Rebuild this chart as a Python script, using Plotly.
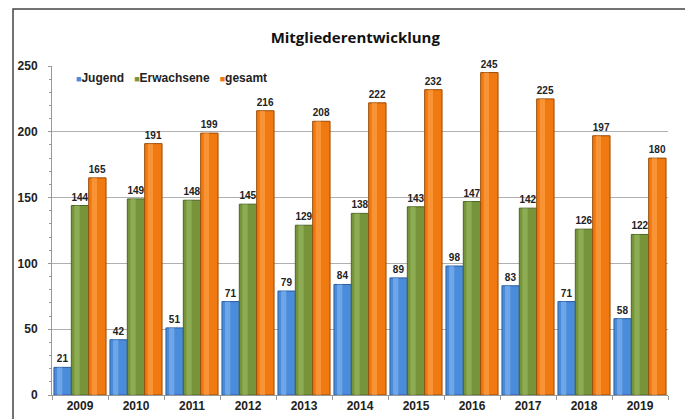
import plotly.graph_objects as go

jahre = ["2009", "2010", "2011", "2012", "2013", "2014", "2015", "2016", "2017", "2018", "2019"]
jugend = [21, 42, 51, 71, 79, 84, 89, 98, 83, 71, 58]
erwachsene = [144, 149, 148, 145, 129, 138, 143, 147, 142, 126, 122]
gesamt = [165, 191, 199, 216, 208, 222, 232, 245, 225, 197, 180]

series = [
    ("Jugend", jugend, "#4A8BDB", "#2A5C9E", "#8CBDF2"),
    ("Erwachsene", erwachsene, "#76953A", "#4C6424", "#A3BF6A"),
    ("gesamt", gesamt, "#F07A10", "#9A4A05", "#FFAA55"),
]

xs = list(range(len(jahre)))
bw = 0.31
fig = go.Figure()
for k, (name, vals, col, edge, light) in enumerate(series):
    off = -0.465 + k * bw
    fig.add_trace(go.Bar(
        x=xs, y=vals, name=name, width=bw, offset=off,
        marker=dict(color=col, line=dict(color=edge, width=1)),
        text=[str(v) for v in vals], textposition="outside",
        texttemplate="<b>%{text}</b>",
        textfont=dict(family="Liberation Sans", size=10, color="#222"),
        cliponaxis=False, showlegend=False,
    ))
    fig.add_trace(go.Bar(
        x=xs, y=vals, width=bw * 0.3, offset=off + bw * 0.18,
        marker=dict(color=light, opacity=0.55, line=dict(width=0)),
        showlegend=False, hoverinfo="skip",
    ))

legend_txt = "   ".join(
    f"<span style='color:{col};font-size:9px'>■</span><b>{name}</b>" for name, _, col, _, _ in series
)

fig.update_layout(
    width=685, height=411,
    margin=dict(l=44, r=25, t=58, b=24),
    paper_bgcolor="white", plot_bgcolor="white",
    barmode="overlay",
    title=dict(text="<b>Mitgliederentwicklung</b>", x=0.507, xanchor="center",
               y=0.927, yanchor="middle",
               font=dict(family="Open Sans", size=15, color="#111")),
    font=dict(family="Liberation Sans"),
    annotations=[dict(text=legend_txt, xref="paper", yref="paper",
                      x=0.035, y=0.964, xanchor="left", yanchor="middle",
                      showarrow=False,
                      font=dict(family="Liberation Sans", size=12, color="#222"))],
    xaxis=dict(range=[-0.5, len(jahre) - 0.5], tickmode="array",
               tickvals=xs, ticktext=[f"<b>{j}</b>" for j in jahre],
               showline=True, linecolor="#999", linewidth=1,
               ticks="", automargin=False,
               minor=dict(tickvals=[i - 0.5 for i in range(len(jahre) + 1)],
                          ticks="outside", ticklen=4, tickcolor="#999"),
               tickfont=dict(family="Liberation Sans", size=12, color="#222")),
    yaxis=dict(range=[0, 250], dtick=50, showgrid=True, gridcolor="#b0b0b0",
               showline=True, linecolor="#999", linewidth=1,
               ticks="outside", ticklen=3, tickcolor="#999",
               minor=dict(dtick=10, ticks="outside", ticklen=2, tickcolor="#999"),
               tickfont=dict(family="Liberation Sans", size=12, color="#222"),
               tickprefix="<b>", ticksuffix="</b>",
               zeroline=False, ticklabelstandoff=8, automargin=False),
    shapes=[dict(type="rect", xref="paper", yref="paper",
                 x0=-0.0633, x1=1.0325, y0=-0.2, y1=1.173,
                 line=dict(color="#444", width=1.5))],
)
fig.write_html("out.html")
